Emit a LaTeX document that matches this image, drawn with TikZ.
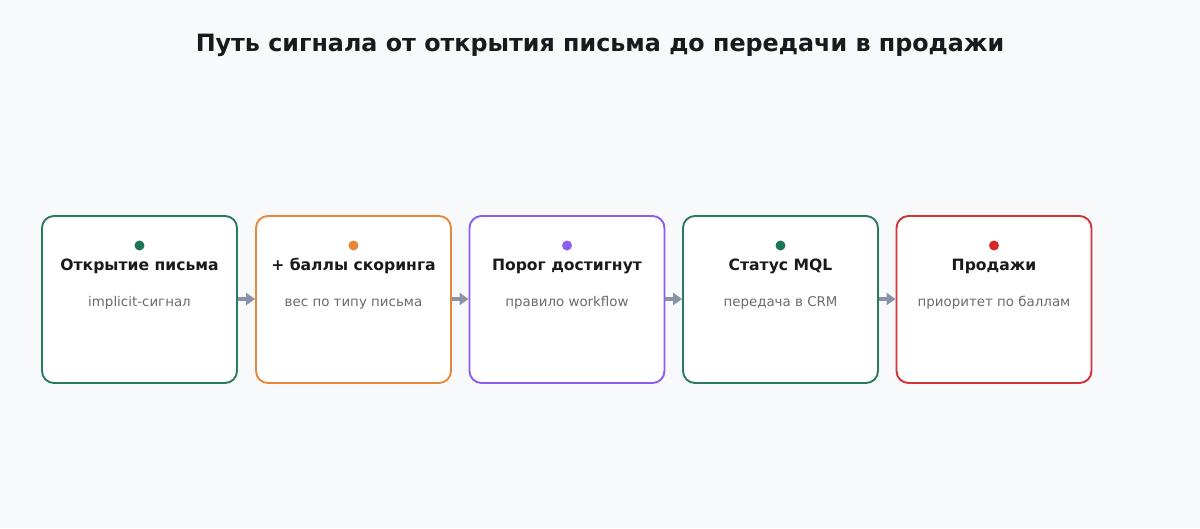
\documentclass[tikz,border=0pt]{standalone}
\usepackage{fontspec}
\setmainfont{DejaVu Sans}
\usetikzlibrary{arrows.meta}
\definecolor{bg}{HTML}{F8F9FA}
\definecolor{cgreen}{HTML}{2A7A60}
\definecolor{dgreen}{HTML}{1B7358}
\definecolor{corange}{HTML}{E8873A}
\definecolor{cpurple}{HTML}{8B5CF6}
\definecolor{cred}{HTML}{D03434}
\definecolor{dred}{HTML}{D62828}
\definecolor{arrowc}{HTML}{8A93A6}
\definecolor{titlec}{HTML}{1A1A1A}
\definecolor{subc}{HTML}{6B6B6B}
\tikzset{
  stagebox/.style={draw=#1, line width=1.9pt, fill=white, rounded corners=12pt, minimum width=195pt, minimum height=167pt, inner sep=0pt},
  stagedot/.style={circle, fill=#1, minimum size=10pt, inner sep=0pt},
  stagetitle/.style={font=\fontsize{15.6}{18}\selectfont\bfseries, text=titlec, inner sep=0pt, anchor=base},
  stagesub/.style={font=\fontsize{13.4}{16}\selectfont, text=subc, inner sep=0pt, anchor=base},
  flow/.style={draw=arrowc, line width=3.5pt, -{Triangle[length=9pt,width=12pt]}, shorten >=0pt}
}
\begin{document}
\begin{tikzpicture}[x=1pt,y=-1pt]
\fill[bg] (0,0) rectangle (1200,528);
\useasboundingbox (0,0) rectangle (1200,528);
\node[font=\fontsize{23.8}{28}\selectfont\bfseries, text=titlec, anchor=base] (title) at (600,51.5) {Путь сигнала от открытия письма до передачи в продажи};
\foreach \i/\x/\c/\d/\t/\s in {
 1/139.5/cgreen/dgreen/{Открытие письма}/{implicit-сигнал},
 2/353.5/corange/corange/{+ баллы скоринга}/{вес по типу письма},
 3/567/cpurple/cpurple/{Порог достигнут}/{правило workflow},
 4/780.5/cgreen/dgreen/{Статус MQL}/{передача в CRM},
 5/994/cred/dred/{Продажи}/{приоритет по баллам}} {
  \node[stagebox=\c] (b\i) at (\x,299.5) {};
  \node[stagedot=\d] (d\i) at (\x,245.5) {};
  \node[stagetitle] (t\i) at (\x,270.5) {\t};
  \node[stagesub] (s\i) at (\x,306) {\s};
}
\foreach \a/\b in {1/2,2/3,3/4,4/5} {
  \draw[flow] (b\a.east |- 0,299) -- (b\b.west |- 0,299);
}
\end{tikzpicture}
\end{document}
